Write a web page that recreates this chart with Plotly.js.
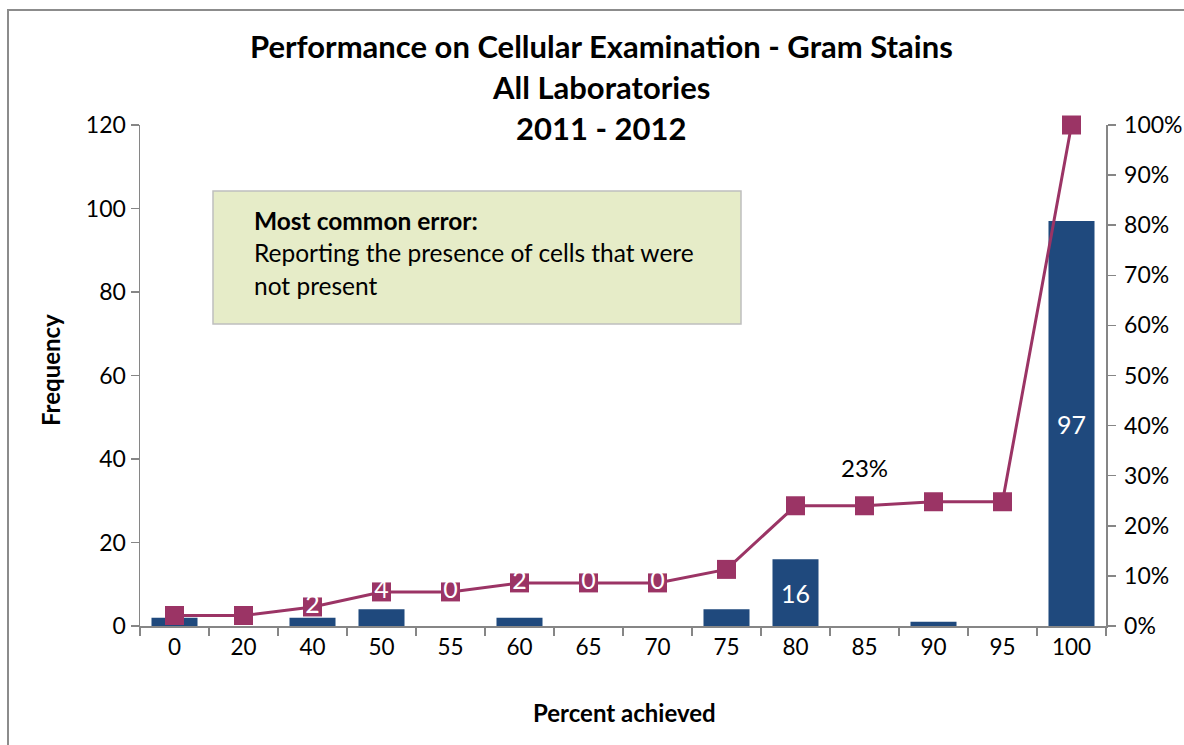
<!DOCTYPE html>
<html>
<head>
<meta charset="utf-8">
<script src="https://cdn.plot.ly/plotly-3.0.1.min.js"></script>
<style>html,body{margin:0;padding:0;background:#fff;}#chart{width:1184px;height:745px;}</style>
</head>
<body>
<div id="chart"></div>
<script>
// ---- data ----
var categories = ['0','20','40','50','55','60','65','70','75','80','85','90','95','100'];
var frequency  = [2, 0, 2, 4, 0, 2, 0, 0, 4, 16, 0, 1, 0, 97];
var cumulativePct = [0.021, 0.021, 0.038, 0.068, 0.068, 0.086, 0.086, 0.086, 0.113, 0.240, 0.240, 0.248, 0.248, 1.00];
var barLabels  = ['', '', '', '', '', '', '', '', '', '16', '', '', '', '97'];
var lineWhiteLabels = ['', '', '2', '4', '0', '2', '0', '0', '', '', '', '', '', ''];
var pctLabel = {category: '85', text: '23%'};
var titleLines = ['Performance on Cellular Examination - Gram Stains', 'All Laboratories', '2011 - 2012'];
var noteTitle = 'Most common error:';
var noteLines = ['Reporting the presence of cells that were', 'not present'];

// ---- layout helpers (pixel -> paper) ----
var L = 140, R = 78, T = 125, B = 119, W = 1184, H = 745;
var PW = W - L - R, PH = H - T - B;
function px(x){ return (x - L) / PW; }
function py(y){ return (H - B - y) / PH; }

var FONT = 'Lato, "Open Sans", sans-serif';
var AX = '#868686';
var BAR = '#1F497D';
var LINE = '#9B3465';

var traces = [
  {
    type: 'bar', x: categories, y: frequency, yaxis: 'y',
    marker: {color: BAR},
    text: barLabels, textposition: 'inside', insidetextanchor: 'middle',
    constraintext: 'none',
    textfont: {color: '#ffffff', size: 25, family: FONT},
    hoverinfo: 'x+y'
  },
  {
    type: 'scatter', mode: 'lines+markers', x: categories, y: cumulativePct, yaxis: 'y2',
    line: {color: LINE, width: 3}, cliponaxis: false,
    marker: {symbol: 'square', size: 19, color: LINE}
  },
  {
    type: 'scatter', mode: 'text', x: categories, y: cumulativePct, yaxis: 'y2',
    text: lineWhiteLabels, textposition: 'middle center',
    textfont: {color: '#ffffff', size: 25, family: FONT},
    hoverinfo: 'skip'
  }
];

var annotations = [];
var titleY = [46, 87, 128];
titleLines.forEach(function(t, i){
  annotations.push({xref:'paper', yref:'paper', x: px(601), y: py(titleY[i]), xanchor:'center', yanchor:'middle',
    showarrow:false, text:'<b>'+t+'</b>', font:{family:FONT, size:31, color:'#000'}});
});
annotations.push({xref:'paper', yref:'paper', x: px(252), y: py(220), xanchor:'left', yanchor:'middle',
  showarrow:false, text:'<b>'+noteTitle+'</b>', font:{family:FONT, size:24.5, color:'#000'}});
var noteY = [252, 285];
noteLines.forEach(function(t, i){
  annotations.push({xref:'paper', yref:'paper', x: px(252), y: py(noteY[i]), xanchor:'left', yanchor:'middle',
    showarrow:false, text:t, font:{family:FONT, size:24.5, color:'#000'}});
});
var pIdx = categories.indexOf(pctLabel.category);
annotations.push({xref:'x', yref:'y2', x: pIdx, y: cumulativePct[pIdx],
  yshift: 38, showarrow:false, text: pctLabel.text, font:{family:FONT, size:24, color:'#000'}});
annotations.push({xref:'paper', yref:'paper', x: px(50), y: py(370), textangle:-90, xanchor:'center', yanchor:'middle',
  showarrow:false, text:'<b>Frequency</b>', font:{family:FONT, size:24, color:'#000'}});
annotations.push({xref:'paper', yref:'paper', x: px(624), y: py(712), xanchor:'center', yanchor:'middle',
  showarrow:false, text:'<b>Percent achieved</b>', font:{family:FONT, size:24, color:'#000'}});

var layout = {
  width: W, height: H,
  margin: {l: L, r: R, t: T, b: B, pad: 0},
  paper_bgcolor: '#ffffff', plot_bgcolor: '#ffffff',
  showlegend: false,
  bargap: 0.333,
  font: {family: FONT, size: 23, color: '#000'},
  xaxis: {
    type: 'category', range: [-0.5, categories.length - 0.5], autorange: false,
    showline: true, linecolor: AX, linewidth: 1.5, tickangle: 0,
    ticks: 'outside', tickson: 'boundaries', ticklen: 8, tickcolor: AX, tickwidth: 1.5,
    showgrid: false, zeroline: false, tickfont: {family: FONT, size: 22.5, color: '#000'}
  },
  yaxis: {
    range: [0, 120], dtick: 20, showline: true, linecolor: AX, linewidth: 1.5,
    ticks: 'outside', ticklen: 8, tickcolor: AX, tickwidth: 1.5,
    showgrid: false, zeroline: false, tickfont: {family: FONT, size: 23, color: '#000'}
  },
  yaxis2: {
    overlaying: 'y', side: 'right', range: [0, 1], dtick: 0.1, tickformat: '.0%',
    showline: true, linecolor: AX, linewidth: 1.5,
    ticks: 'outside', ticklen: 8, tickcolor: AX, tickwidth: 1.5, ticklabelstandoff: 4,
    showgrid: false, zeroline: false, tickfont: {family: FONT, size: 23, color: '#000'}
  },
  shapes: [
    {type:'rect', xref:'paper', yref:'paper', x0: px(8), x1: px(1300), y0: py(900), y1: py(10),
     line:{color:'#8C8C8C', width:2}, fillcolor:'rgba(0,0,0,0)', layer:'below'},
    {type:'rect', xref:'paper', yref:'paper', x0: px(213), x1: px(741), y0: py(324), y1: py(191),
     line:{color:'#BFBFBF', width:1.5}, fillcolor:'#E6ECC8', layer:'above'}
  ],
  annotations: annotations
};

Plotly.newPlot('chart', traces, layout, {displayModeBar: false, staticPlot: true});
</script>
</body>
</html>
